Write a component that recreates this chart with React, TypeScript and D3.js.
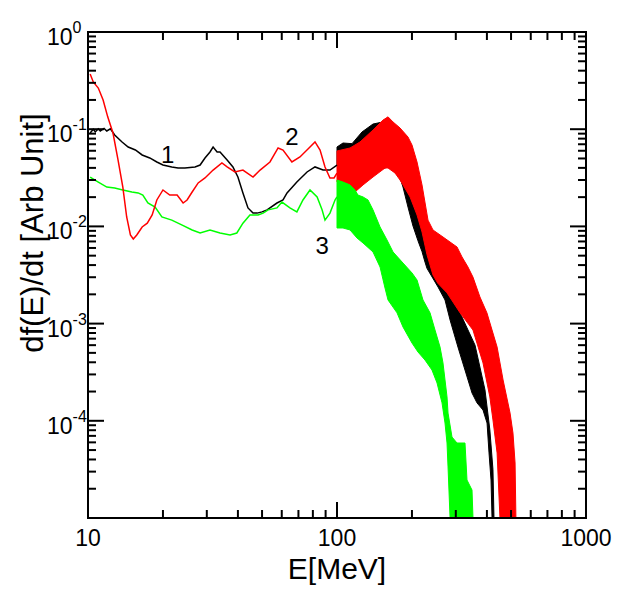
import React from 'react';
import * as d3 from 'd3';

const W = 619;
const H = 590;
const PLOT = { left: 88, right: 586, top: 32, bottom: 518 };

const xDomain: [number, number] = [10, 1000];
const yDomain: [number, number] = [1e-5, 1];
const xTickLabels = ['10', '100', '1000'];
const yTickExponents = ['0', '-1', '-2', '-3', '-4'];
const xTitle = 'E[MeV]';
const yTitle = 'df(E)/dt [Arb Unit]';

// ---- low-energy traces (E < 100 MeV): [E (MeV), df/dt]
const curve1Line: [number, number][] = [
  [10.2, 0.0914], [10.5, 0.1], [10.7, 0.0938], [11.0, 0.101], [11.2, 0.0958], [11.6, 0.102],
  [11.9, 0.0958], [12.3, 0.101], [12.8, 0.0871], [13.7, 0.0739], [14.5, 0.0656], [15.5, 0.0611],
  [16.5, 0.0543], [17.7, 0.0506], [18.9, 0.046], [20.0, 0.0428], [21.7, 0.0409], [23.0, 0.0399],
  [24.5, 0.0399], [26.9, 0.0409], [28.2, 0.0428], [29.5, 0.0506], [30.9, 0.0583], [31.8, 0.0656],
  [33.0, 0.0583], [33.9, 0.0583], [36.2, 0.0483], [38.2, 0.0409], [40.0, 0.0322], [41.9, 0.0221],
  [43.9, 0.0155], [46.0, 0.0137], [47.8, 0.0137], [50.0, 0.0141], [52.4, 0.0148], [57.4, 0.0174],
  [60.7, 0.0187], [63.0, 0.0221], [69.0, 0.0286], [75.8, 0.0363], [81.6, 0.0409], [87.9, 0.038],
  [93.7, 0.038], [100, 0.0428],
];
const curve2Line: [number, number][] = [
  [10.2, 0.37], [10.5, 0.306], [11.0, 0.265], [11.5, 0.2], [12.0, 0.134], [12.6, 0.0914],
  [13.2, 0.0483], [13.8, 0.0254], [14.3, 0.0125], [14.8, 0.00816], [15.2, 0.00742], [15.7, 0.00816],
  [16.5, 0.00986], [17.3, 0.0108], [18.1, 0.0131], [18.9, 0.0187], [20.0, 0.0237], [21.3, 0.021],
  [22.8, 0.021], [24.1, 0.0174], [25.0, 0.0187], [26.2, 0.0226], [27.7, 0.028], [29.5, 0.0315],
  [31.8, 0.038], [34.5, 0.0449], [36.2, 0.0409], [38.9, 0.0363], [41.9, 0.038], [46.0, 0.0322],
  [49.1, 0.038], [53.8, 0.046], [58.0, 0.0641], [60.7, 0.0611], [65.9, 0.046], [71.0, 0.0518],
  [77.9, 0.0656], [81.6, 0.0739], [85.5, 0.0611], [89.5, 0.0409], [93.7, 0.0315], [97.3, 0.0315],
  [100, 0.0354],
];
const curve3Line: [number, number][] = [
  [10.2, 0.0322], [11.0, 0.0286], [11.9, 0.0254], [12.8, 0.0248], [13.8, 0.0237], [15.0, 0.0226],
  [15.9, 0.0221], [16.6, 0.021], [17.4, 0.0174], [18.6, 0.0158], [19.8, 0.0125], [21.7, 0.0116],
  [23.9, 0.0103], [26.2, 0.00919], [28.2, 0.00855], [30.9, 0.00919], [33.9, 0.00855], [37.2, 0.00816],
  [39.6, 0.00855], [41.9, 0.0108], [44.7, 0.0131], [48.2, 0.0131], [50.5, 0.0137], [52.9, 0.0148],
  [57.4, 0.0155], [60.1, 0.0178], [64.7, 0.0155], [69.0, 0.0141], [73.0, 0.0187], [77.9, 0.0237],
  [83.2, 0.0201], [87.1, 0.0148], [89.5, 0.0116], [93.7, 0.0137], [98.2, 0.0187], [100, 0.0201],
];

// ---- high-energy oscillating part (E >= 100 MeV): upper / lower envelopes
const curve1Upper: [number, number][] = [
  [100, 0.0656], [105.7, 0.0721], [114.9, 0.0710], [126, 0.0936], [139.5, 0.113], [155.9, 0.12],
  [179.1, 0.098], [205.7, 0.038], [236.4, 0.00725], [271.5, 0.00281], [312, 0.00129], [358.4, 0.0006],
  [392.9, 0.000208], [411, 0.0000807], [423, 0.0000314], [427, 0.00001],
];
const curve1Lower: [number, number][] = [
  [100, 0.0428], [112.8, 0.038], [139.5, 0.038], [155.9, 0.0399], [160.3, 0.0409], [171, 0.0363],
  [179.1, 0.0315], [184.1, 0.0254], [192.8, 0.0158], [201.9, 0.0101], [211.5, 0.0071], [219.5, 0.0055],
  [225.6, 0.0043], [229.8, 0.0037], [254.5, 0.00238], [271.5, 0.00175], [284.5, 0.00109], [306, 0.000574],
  [326.6, 0.000333], [348.6, 0.000193], [364.9, 0.000153], [385.8, 0.000129], [400.5, 0.0000949],
  [407.9, 0.0000467], [415.5, 0.0000246], [419.4, 0.00001],
];
const curve2Upper: [number, number][] = [
  [100, 0.0597], [112.8, 0.0641], [123.7, 0.0739], [139.5, 0.098], [153, 0.124], [160.3, 0.134],
  [167.9, 0.1186], [179.1, 0.103], [192.8, 0.0831], [200.1, 0.0688], [209.6, 0.046], [219.5, 0.0267],
  [232, 0.0116], [242.9, 0.00919], [266.5, 0.00778], [303.4, 0.00614], [317.7, 0.00485], [335.7, 0.00382],
  [351.6, 0.00301], [375, 0.00188], [400, 0.00129], [439.5, 0.000574], [464.5, 0.000263], [495.5, 0.00012],
  [509, 0.0000748], [519, 0.0000368], [523, 0.00001],
];
const curve2Lower: [number, number][] = [
  [100, 0.0286], [118.1, 0.0226], [127.2, 0.0267], [139.5, 0.0322], [155.9, 0.0399], [160.3, 0.0399],
  [171, 0.0354], [179.1, 0.03], [184.1, 0.0267], [196.5, 0.0201], [209.6, 0.0131], [219.5, 0.00876],
  [229.8, 0.00512], [242.9, 0.00316], [254, 0.0026], [276.6, 0.00207], [312, 0.00129], [351.6, 0.000859],
  [385.8, 0.000394], [411, 0.000176], [423, 0.000102], [439.5, 0.0000467], [451.3, 0.00001],
];
const curve3Upper: [number, number][] = [
  [100, 0.03], [105.7, 0.0286], [112.8, 0.0267], [118.1, 0.0237], [121.4, 0.021], [127.2, 0.0201],
  [133.2, 0.0187], [139.5, 0.0148], [148.9, 0.00986], [158.8, 0.00725], [167.9, 0.00546], [184.1, 0.0042],
  [200.1, 0.00332], [209.6, 0.00281], [221.5, 0.00175], [236.4, 0.00129], [247.5, 0.000859], [259.3, 0.000574],
  [266.5, 0.000394], [271.5, 0.000263], [276.6, 0.000176], [279.2, 0.00012], [289.6, 0.0000681],
  [303.4, 0.0000591], [326.6, 0.0000591], [332.7, 0.0000246], [348.5, 0.0000194], [351.7, 0.00001],
];
const curve3Lower: [number, number][] = [
  [100, 0.00963], [105.7, 0.00963], [112.8, 0.00919], [120.3, 0.0076], [127.2, 0.00675], [139.5, 0.00546],
  [148.9, 0.00382], [155.9, 0.00232], [160.3, 0.00175], [174.2, 0.00129], [184.1, 0.000923], [200.1, 0.000631],
  [211.5, 0.00051], [225.6, 0.000422], [240.7, 0.000333], [252.2, 0.000245], [264.1, 0.000153],
  [271.5, 0.0000949], [276.6, 0.0000591], [279.2, 0.0000335], [284.5, 0.00001],
];

const curveLabels = [
  { text: '1', E: 20.9, f: 0.0449 },
  { text: '2', E: 65.9, f: 0.0688 },
  { text: '3', E: 87.1, f: 0.0052 },
];

const BLACK = '#000000';
const RED = '#ff0000';
const GREEN = '#00ff00';

export default function App() {
  const x = d3.scaleLog().domain(xDomain).range([PLOT.left, PLOT.right]);
  const y = d3.scaleLog().domain(yDomain).range([PLOT.bottom, PLOT.top]);
  const line = d3
    .line<[number, number]>()
    .x((d) => x(d[0]))
    .y((d) => y(d[1]));
  const band = (up: [number, number][], lo: [number, number][]) =>
    line([...up, ...lo.slice().reverse()]) + 'Z';

  const xTicks = x.ticks();
  const yTicks = y.ticks();
  const isMajor = (v: number) => Math.abs(Math.log10(v) - Math.round(Math.log10(v))) < 1e-6;
  const yMajors = yTicks.filter(isMajor).filter((v) => v > 1.5e-5);
  const xMajors = xTicks.filter(isMajor);

  const MAJ = 16;
  const MIN = 8;
  const font = '"Liberation Sans", Arial, Helvetica, sans-serif';

  return (
    <svg
      width={W}
      height={H}
      style={{ position: 'absolute', left: 0, top: 0, background: '#fff' }}
      fontFamily={font}
    >
      <defs>
        <clipPath id="plotclip">
          <rect x={PLOT.left} y={PLOT.top} width={PLOT.right - PLOT.left} height={PLOT.bottom - PLOT.top} />
        </clipPath>
      </defs>
      <rect x={0} y={0} width={W} height={H} fill="#fff" />
      <g clipPath="url(#plotclip)">
        <path d={band(curve1Upper, curve1Lower)} fill={BLACK} stroke={BLACK} strokeWidth={1} />
        <path d={band(curve2Upper, curve2Lower)} fill={RED} stroke={RED} strokeWidth={1} />
        <path d={band(curve3Upper, curve3Lower)} fill={GREEN} stroke={GREEN} strokeWidth={1} />
        <path d={line(curve1Line) || ''} fill="none" stroke={BLACK} strokeWidth={1.5} />
        <path d={line(curve3Line) || ''} fill="none" stroke={GREEN} strokeWidth={1.5} />
        <path d={line(curve2Line) || ''} fill="none" stroke={RED} strokeWidth={1.5} />
      </g>

      {/* frame */}
      <rect
        x={PLOT.left}
        y={PLOT.top}
        width={PLOT.right - PLOT.left}
        height={PLOT.bottom - PLOT.top}
        fill="none"
        stroke="#000"
        strokeWidth={2}
      />
      {/* x ticks bottom & top */}
      {xTicks.map((v, i) => {
        const len = isMajor(v) ? MAJ : MIN;
        const xp = x(v);
        return (
          <g key={'xt' + i} stroke="#000" strokeWidth={2}>
            <line x1={xp} x2={xp} y1={PLOT.bottom} y2={PLOT.bottom - len} />
            <line x1={xp} x2={xp} y1={PLOT.top} y2={PLOT.top + len} />
          </g>
        );
      })}
      {/* y ticks left & right */}
      {yTicks.map((v, i) => {
        const len = isMajor(v) ? MAJ : MIN;
        const yp = y(v);
        return (
          <g key={'yt' + i} stroke="#000" strokeWidth={2}>
            <line x1={PLOT.left} x2={PLOT.left + len} y1={yp} y2={yp} />
            <line x1={PLOT.right} x2={PLOT.right - len} y1={yp} y2={yp} />
          </g>
        );
      })}
      {/* x tick labels */}
      {xMajors.map((v, i) => (
        <text key={'xl' + i} x={x(v)} y={546} textAnchor="middle" fontSize={23} fill="#000">
          {xTickLabels[i]}
        </text>
      ))}
      {/* y tick labels */}
      {yMajors
        .slice()
        .sort((a, b) => b - a)
        .map((v, i) => (
          <text key={'yl' + i} x={47} y={y(v) + 13} fontSize={23} fill="#000">
            10
            <tspan dy={-12} fontSize={16}>
              {yTickExponents[i]}
            </tspan>
          </text>
        ))}
      {/* curve labels */}
      {curveLabels.map((c, i) => (
        <text key={'cl' + i} x={x(c.E)} y={y(c.f)} textAnchor="middle" fontSize={24} fill="#000">
          {c.text}
        </text>
      ))}
      {/* axis titles */}
      <text x={(PLOT.left + PLOT.right) / 2} y={579} textAnchor="middle" fontSize={30} fill="#000">
        {xTitle}
      </text>
      <text
        transform={`translate(43, 233) rotate(-90)`}
        textAnchor="middle"
        fontSize={31}
        fill="#000"
      >
        {yTitle}
      </text>
    </svg>
  );
}
